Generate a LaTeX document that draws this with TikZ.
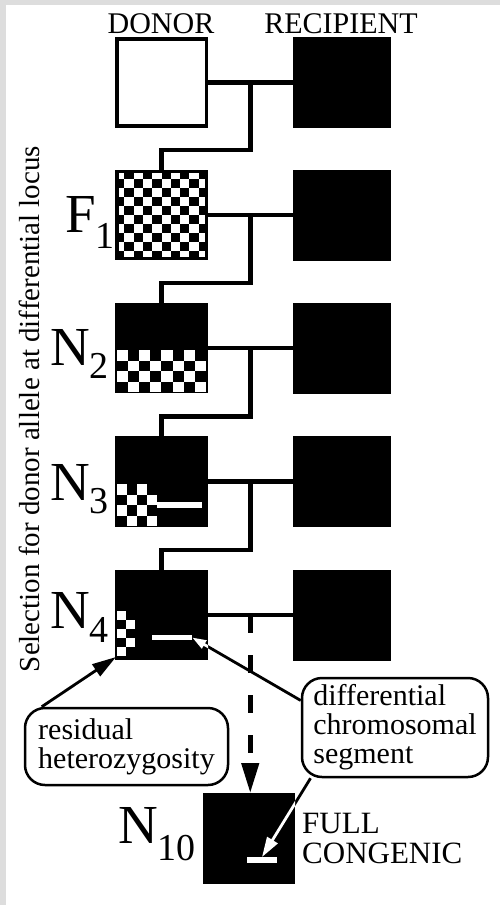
\documentclass[tikz,border=0pt]{standalone}
\usepackage{fontspec}
\setmainfont{Liberation Serif}
\usetikzlibrary{calc}
\usetikzlibrary{arrows.meta}
\definecolor{framegray}{RGB}{221,221,221}
\tikzset{sq/.style={minimum width=89.5pt,minimum height=87pt,inner sep=0pt,draw,line width=3.5pt},
 blk/.style={sq,fill=black},
 recip/.style={blk,minimum width=94.5pt,minimum height=87.5pt},
 wbar/.style={fill=white,inner sep=0pt,minimum height=5.5pt},
 note/.style={draw,line width=2.5pt,rounded corners=20pt,align=left,inner sep=0pt,
   font=\fontsize{30}{29}\selectfont},
 lnk/.style={line width=4.5pt},
 thin link/.style={line width=2.8pt},
 lab/.style={inner sep=0pt,anchor=base west,font=\fontsize{55}{55}\selectfont},
 head/.style={inner sep=0pt,anchor=base,font=\fontsize{30}{30}\selectfont},
 }
% checker: x0, y0, cell width, cell height, last column, last row
\newcommand{\chkr}[6]{%
  \foreach \i in {0,...,#5}{\foreach \j in {0,...,#6}{%
    \pgfmathtruncatemacro\cpar{mod(\i+\j,2)}%
    \ifnum\cpar=0 \fill[white] ({#1+\i*#3},{#2+\j*#4}) rectangle ++(#3,#4);\fi}}}
\begin{document}
\begin{tikzpicture}[x=1pt,y=-1pt]
        \useasboundingbox (0,0) rectangle (500,905);
        \fill[white] (0,0) rectangle (500,905);
        \fill[framegray] (0,0) rectangle (6,905);
        \fill[framegray] (0,0) rectangle (500,5);
        % column heads
        \node[head] (hd) at (161,33) {DONOR};
        \node[head] (hr) at (341,33) {RECIPIENT};
        \node[rotate=90,font=\fontsize{29}{29}\selectfont] (sel) at (29,409)
          {Selection for donor allele at differential locus};
        % parents
        \node[sq] (P) at (161.5,82.5) {};
        \node[recip] (R0) at (341.5,82.5) {};
        % F1
        \fill (115,170) rectangle (208,260);
        \chkr{115}{170}{9.3}{9}{9}{9}
        \node[sq] (F1) at (161.5,215) {};
        \node[recip] (R1) at (341.5,215) {};
        \node[lab] (l1) at (65,232) {F\raisebox{-16pt}{\fontsize{38}{38}\selectfont 1}};
        % N2
        \node[blk] (N2) at (161.5,348) {};
        \chkr{116.5}{350}{11.2}{10.6}{7}{3}
        \node[recip] (R2) at (341.5,348) {};
        \node[lab] (l2) at (50,365) {N\raisebox{-13pt}{\fontsize{38}{38}\selectfont 2}};
        % N3
        \node[blk] (N3) at (161.5,481.5) {};
        \chkr{116.5}{484}{10.1}{10.5}{3}{3}
        \node[wbar,minimum width=45pt] (bar3) at (179.5,505) {};
        \node[recip] (R3) at (341.5,481.5) {};
        \node[lab] (l3) at (50,500) {N\raisebox{-13pt}{\fontsize{38}{38}\selectfont 3}};
        % N4
        \node[blk] (N4) at (161.5,615) {};
        \chkr{116.5}{611}{9.2}{9}{1}{4}
        \coordinate (het) at (116,657);
        \node[wbar,minimum width=40pt] (bar4) at (172,637.5) {};
        \node[recip] (R4) at (341.5,615) {};
        \node[lab] (l4) at (50,628) {N\raisebox{-14pt}{\fontsize{38}{38}\selectfont 4}};
        % N10
        \node[blk,minimum width=88.5pt,minimum height=87.5pt] (N10) at (249,838.5) {};
        \node[wbar,minimum width=30pt] (bar10) at (262,860) {};
        \node[lab] (l10) at (118,843) {N\raisebox{-17pt}{\fontsize{38}{38}\selectfont 10}};
        \node[inner sep=0pt,anchor=west,align=left,font=\fontsize{31}{30}\selectfont]
          (fc) at (302,838) {FULL\\CONGENIC};
        % notes
        \node[note,minimum width=203pt,minimum height=77pt] (res) at (126.5,746.5)
          {residual\\heterozygosity};
        \node[note,minimum width=186pt,minimum height=99pt] (diff) at (395,727.5)
          {differential\\chromosomal\\segment};
        % crosses
        \foreach \a/\b/\c/\n in {P/R0/F1/0,F1/R1/N2/1,N2/R2/N3/2,N3/R3/N4/3} {
          \coordinate (m\n) at ($(\a.east)!.5!(\b.west)$);
          \draw[lnk] (\a.east) -- (\b.west);
          \draw[lnk] (m\n) |- ([yshift=20pt]\c.north) -- (\c.north);
        }
        \coordinate (m4) at ($(N4.east)!.5!(R4.west)$);
        \draw[lnk] (N4.east) -- (R4.west);
        \draw[line width=4.5pt,dash pattern=on 18pt off 22pt,
          -{Triangle[length=30pt,width=17pt]}] (m4) -- (m4 |- N10.north);
        % pointers
        \draw[thin link,-{Triangle[length=24pt,width=14pt]}] ([xshift=18pt]res.north west) -- (het);
        \draw[thin link,-{Triangle[length=14pt,width=9pt]}] (diff.164) -- (bar4.east);
        \draw[thin link,-{Triangle[length=20pt,width=12pt]}] (diff.211) -- (bar10.north);
        \begin{scope}
          \clip (N4.north west) rectangle (N4.south east);
          \draw[thin link,white,-{Triangle[length=14pt,width=9pt]}] (diff.164) -- (bar4.east);
        \end{scope}
        \begin{scope}
          \clip (N10.north west) rectangle (N10.south east);
          \draw[thin link,white,-{Triangle[length=20pt,width=12pt]}] (diff.211) -- (bar10.north);
        \end{scope}
    \end{tikzpicture}
\end{document}
